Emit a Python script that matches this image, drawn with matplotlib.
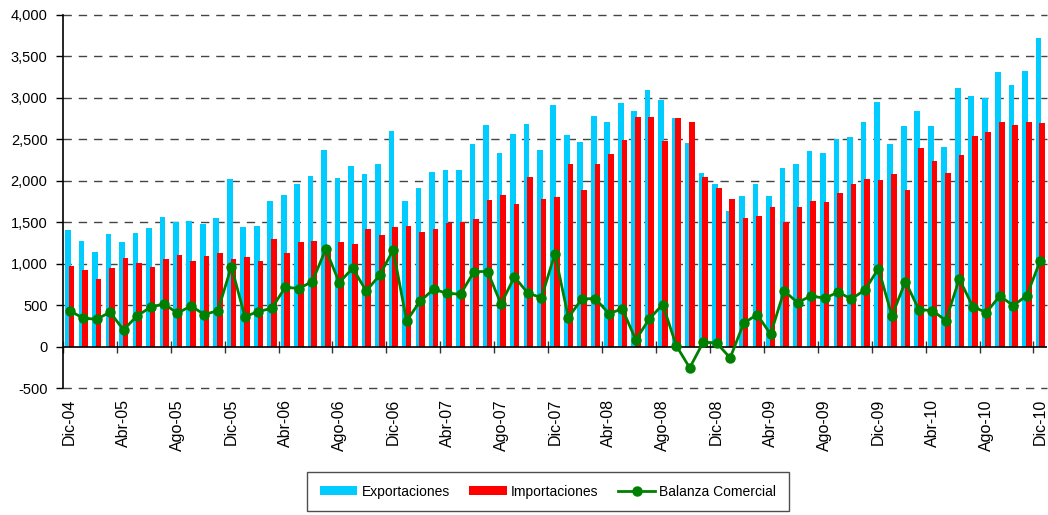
import matplotlib
matplotlib.use('Agg')
import matplotlib.pyplot as plt
import numpy as np

plt.rcParams['font.family'] = ['Liberation Sans', 'DejaVu Sans']

# Monthly series, Dic-04 .. Dic-10 (millions)
month_abbr = ['Ene', 'Feb', 'Mar', 'Abr', 'May', 'Jun',
              'Jul', 'Ago', 'Sep', 'Oct', 'Nov', 'Dic']
months = ['Dic-04'] + [f"{m}-{y:02d}" for y in range(5, 11) for m in month_abbr]

exportaciones = [1407, 1274, 1146, 1355, 1266, 1367, 1427, 1568, 1500, 1516, 1475, 1556, 2022,
                 1439, 1459, 1757, 1829, 1958, 2058, 2372, 2030, 2179, 2082, 2203, 2597,
                 1753, 1918, 2103, 2127, 2127, 2444, 2669, 2340, 2561, 2685, 2368, 2911,
                 2549, 2464, 2786, 2714, 2939, 2842, 3100, 2975, 2762, 2452, 2090, 1958,
                 1640, 1821, 1962, 1821, 2159, 2207, 2364, 2332, 2500, 2533, 2706, 2947,
                 2444, 2665, 2842, 2665, 2412, 3116, 3019, 2995, 3313, 3160, 3321, 3719]

importaciones = [977, 929, 816, 945, 1065, 1005, 965, 1057, 1101, 1033, 1097, 1126, 1061,
                 1077, 1037, 1294, 1126, 1262, 1274, 1198, 1262, 1238, 1415, 1347, 1439,
                 1451, 1379, 1415, 1487, 1500, 1544, 1769, 1829, 1721, 2042, 1781, 1809,
                 2199, 1889, 2203, 2320, 2488, 2770, 2770, 2480, 2754, 2706, 2042, 1918,
                 1781, 1552, 1580, 1680, 1500, 1680, 1761, 1749, 1853, 1962, 2026, 2014,
                 2082, 1885, 2396, 2235, 2098, 2308, 2545, 2585, 2706, 2673, 2714, 2698]

balanza = [434, 342, 330, 414, 201, 370, 474, 515, 402, 490, 386, 434, 965,
           362, 422, 462, 716, 700, 784, 1174, 772, 945, 671, 860, 1166,
           310, 547, 691, 643, 631, 905, 905, 515, 840, 643, 591, 1118,
           350, 575, 579, 398, 454, 80, 334, 507, 12, -257, 52, 44,
           -137, 281, 386, 149, 671, 531, 611, 583, 655, 575, 683, 941,
           370, 784, 446, 434, 314, 816, 482, 410, 611, 494, 615, 1033]

yticks = list(range(-500, 4001, 500))

fig = plt.figure(figsize=(10.48, 5.15), dpi=100)
ax = fig.add_axes([0.060, 0.2466, 0.939, 0.7243])

x = np.arange(len(months))
b1 = ax.bar(x - 0.12, exportaciones, width=0.42, color='#00CCFF', zorder=2, label='Exportaciones')
b2 = ax.bar(x + 0.15, importaciones, width=0.42, color='#FF0000', zorder=3, label='Importaciones')
l1, = ax.plot(x, balanza, color='#008000', lw=2, marker='o', ms=6.5, zorder=5, label='Balanza Comercial')

ax.set_xlim(-0.5, len(months) - 0.5)
ax.set_ylim(-500, 4000)

# y axis
ax.set_yticks(yticks)
ax.set_yticklabels([f"{v:,}" for v in yticks])
ax.tick_params(axis='y', direction='out', length=5, width=1, labelsize=10.5, pad=6, colors='black')
for v in yticks:
    if v != 0:
        ax.axhline(v, color='#444444', lw=1, ls=(0, (6, 5)), zorder=1, clip_on=False)
ax.axhline(0, color='black', lw=1.2, zorder=4)

for s in ['top', 'right', 'bottom']:
    ax.spines[s].set_visible(False)
ax.spines['left'].set_linewidth(1.2)

# x labels at bottom, every 4 months
ax.set_xticks(x[::4])
ax.set_xticklabels(months[::4], rotation=90, fontsize=11.5)
ax.tick_params(axis='x', length=0, pad=8)

# tick marks on the zero line at category boundaries
frac0 = 500 / 4500
sec = ax.secondary_xaxis(frac0)
sec.set_xticks(np.arange(-0.5, len(months), 4))
sec.set_xticklabels([])
sec.tick_params(axis='x', direction='inout', length=8, width=1, colors='#333333')
sec.spines['bottom'].set_visible(False)

leg = fig.legend([b1, b2, l1], ['Exportaciones', 'Importaciones', 'Balanza Comercial'],
                 loc='upper center', bbox_to_anchor=(0.523, 0.083),
                 ncol=3, frameon=True, fancybox=False, fontsize=10,
                 handlelength=2.7, handleheight=0.6, handletextpad=0.3,
                 columnspacing=1.4, borderpad=0.9, borderaxespad=0)
leg.get_frame().set_edgecolor('#222222')
leg.get_frame().set_linewidth(1)

fig.savefig('out.png', dpi=100, facecolor='white')
